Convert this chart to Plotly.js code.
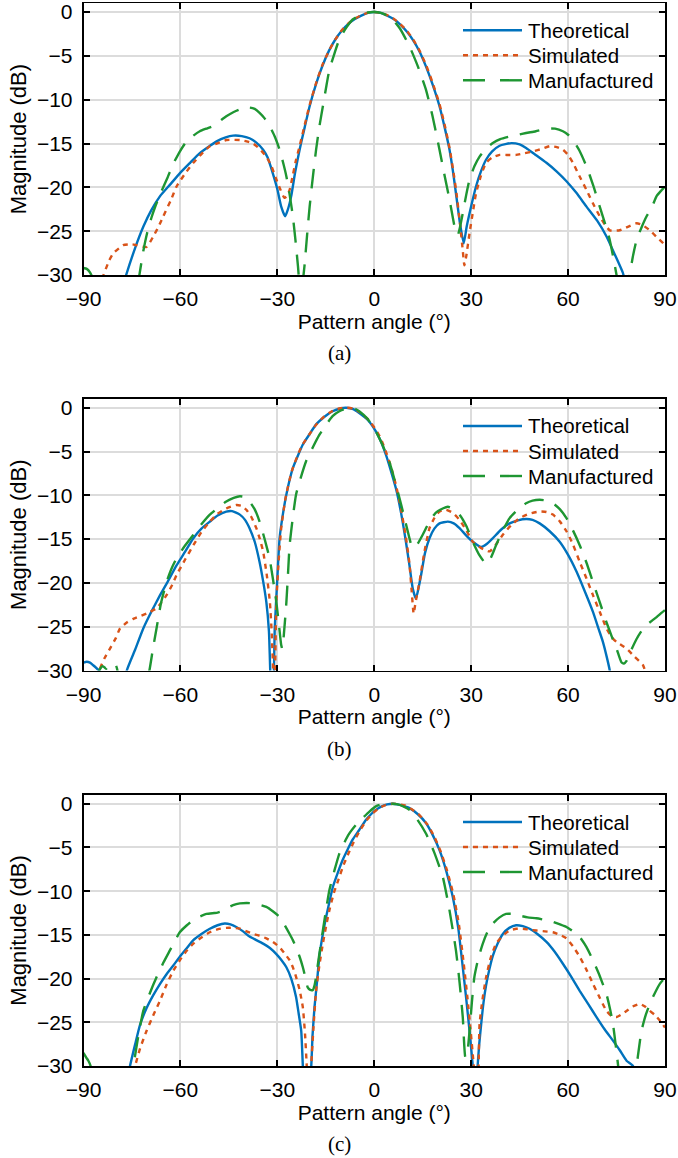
<!DOCTYPE html>
<html>
<head>
<meta charset="utf-8">
<script src="https://cdn.plot.ly/plotly-3.0.1.min.js"></script>
<style>html,body{margin:0;padding:0;background:#fff;}#chart{width:678px;height:1158px;}</style>
</head>
<body>
<div id="chart"></div>
<script>
// ---------- tick labels / names ----------
const xTicks = [-90, -60, -30, 0, 30, 60, 90];
const yTicks = [0, -5, -10, -15, -20, -25, -30];
const seriesNames = ['Theoretical', 'Simulated', 'Manufactured'];
const panelLabels = ['(a)', '(b)', '(c)'];
const xTitle = 'Pattern angle (°)';
const yTitle = 'Magnitude (dB)';

// ---------- panel (a) : [angle (deg), magnitude (dB)] ----------
const aTheoretical = [[-78,-31.5],[-76.8,-30],[-74,-26.9],[-71.5,-24.5],[-69,-22.6],[-66.3,-21.0],[-63,-19.6],[-60.2,-18.4],[-57,-17.2],[-54,-16.1],[-51,-15.3],[-48.8,-14.75],[-46,-14.3],[-43.7,-14.1],[-41,-14.15],[-38.6,-14.4],[-36.5,-14.9],[-34.4,-15.7],[-33,-16.6],[-31.4,-18.4],[-30,-20.2],[-28.8,-22.2],[-27.6,-23.3],[-26.8,-22.6],[-25.7,-21.0],[-24.5,-18.3],[-23.1,-15.7],[-21.5,-13.1],[-20,-10.75],[-18,-8.2],[-16,-6.1],[-14,-4.4],[-12,-3.1],[-10,-2.1],[-8,-1.35],[-6,-0.8],[-4,-0.4],[-2,-0.1],[0,0],[2,-0.1],[4,-0.4],[6,-0.8],[8,-1.4],[10,-2.2],[12,-3.2],[14,-4.5],[16,-6.2],[18,-8.2],[20.2,-10.75],[22,-13.5],[23.3,-15.7],[24.3,-18.0],[25.3,-20.7],[26.5,-24.0],[27.7,-26.4],[28.6,-24.5],[29.5,-22.95],[31.5,-19.9],[33,-18.2],[34.6,-16.85],[36.5,-15.9],[38.8,-15.25],[42.4,-14.95],[45,-15.1],[47,-15.5],[50,-16.3],[53.3,-17.2],[56.5,-18.2],[59.5,-19.3],[62.5,-20.6],[65.7,-22.2],[69,-23.8],[71.9,-25.6],[74.5,-27.7],[77,-29.8],[78,-31.5]];
const aSimulated = [[-85,-31.5],[-83.8,-30],[-82,-28.3],[-80.7,-27.5],[-77.7,-26.6],[-75,-26.5],[-73.5,-26.6],[-70.5,-26.8],[-68.4,-25.6],[-66.8,-24.5],[-65.3,-23.3],[-63,-21.5],[-61.2,-19.9],[-58.5,-18.4],[-56,-17.2],[-53.5,-16.2],[-50.9,-15.3],[-48,-14.9],[-45.8,-14.6],[-41.6,-14.6],[-39.5,-14.75],[-37.5,-15.0],[-35.5,-15.6],[-33.4,-16.5],[-31.8,-17.6],[-30.3,-19.1],[-29,-20.3],[-27.8,-21.2],[-27,-21.0],[-26.2,-20.3],[-25.2,-18.6],[-24.2,-16.85],[-23.1,-15.3],[-22,-13.6],[-20,-10.6],[-18,-8.1],[-16,-6.0],[-14,-4.4],[-12,-3.1],[-10,-2.05],[-8,-1.3],[-6,-0.75],[-4,-0.35],[-2,-0.1],[0,0],[2,-0.08],[4,-0.35],[6,-0.75],[8,-1.35],[10,-2.1],[12,-3.1],[14,-4.4],[16,-6.0],[18,-8.0],[20.2,-10.5],[22,-13.2],[23.3,-15.5],[24.5,-18.2],[25.5,-20.8],[26.5,-24.0],[27.4,-27.2],[27.9,-28.9],[28.5,-27.8],[29.5,-25.2],[30.5,-22.9],[31.5,-20.7],[33,-18.7],[34.6,-17.2],[36.5,-16.6],[38.8,-16.3],[41,-16.3],[43.9,-16.3],[46.5,-16.1],[49.1,-15.9],[52,-15.6],[54.3,-15.3],[56.5,-15.4],[58.4,-15.7],[60,-16.3],[61.5,-17.2],[63.5,-18.7],[65.7,-20.3],[67.8,-21.9],[69.8,-23.3],[71.5,-24.3],[72.9,-24.9],[76,-24.9],[78.5,-24.5],[81.2,-24.1],[83,-24.3],[85.3,-24.9],[87.5,-25.7],[89.5,-26.4],[90,-26.7]];
const aManufactured = [[-90,-29.2],[-89,-29.3],[-88,-29.7],[-87,-30.6],[-86,-33],[-74,-33],[-72.7,-30],[-71.5,-27.3],[-70.3,-25.2],[-69,-23.5],[-67.7,-22.1],[-66.3,-20.8],[-64,-18.9],[-62.2,-17.3],[-60,-15.8],[-58.1,-14.75],[-56,-14.1],[-54,-13.6],[-52,-13.3],[-49.9,-13.0],[-48,-12.5],[-45.8,-11.9],[-43.5,-11.4],[-41.6,-11.1],[-38.6,-10.9],[-37,-11.05],[-35.5,-11.5],[-34,-12.1],[-32.4,-13.0],[-30.8,-14.2],[-29.3,-15.7],[-28.2,-17.2],[-27.2,-18.75],[-26.2,-20.8],[-25.2,-23.3],[-24.4,-26],[-23.6,-29.05],[-23.2,-31],[-22.8,-33],[-22.2,-31],[-21.6,-29],[-20.8,-25.5],[-20,-22.2],[-19,-18.8],[-18,-15.7],[-17,-13.1],[-15.9,-10.75],[-14.9,-8.6],[-13.9,-6.6],[-12.3,-4.7],[-10.8,-3.1],[-8.7,-1.8],[-6.7,-0.85],[-4,-0.3],[-2,-0.05],[0,0],[2,-0.1],[4,-0.4],[5.7,-0.85],[8,-1.9],[10.9,-3.9],[13.5,-6.2],[16,-8.85],[18,-11.8],[20.2,-15.7],[21.8,-18.7],[23.3,-21.4],[24.5,-23.8],[25.3,-25.2],[25.9,-25.4],[26.5,-24.6],[27.4,-22.95],[28.5,-20.8],[29.5,-19.1],[31,-17.6],[32.6,-16.5],[34.6,-15.6],[36.7,-14.95],[39,-14.5],[41.9,-14.2],[44.5,-14.0],[47,-13.8],[50,-13.6],[53.3,-13.3],[56,-13.3],[58.4,-13.6],[60,-14.0],[61.5,-14.6],[63.5,-15.8],[65.7,-17.6],[67.8,-19.8],[69.8,-22.2],[71.5,-24.2],[72.9,-26.0],[74,-28],[75,-30],[75.8,-32],[78.3,-32],[79.1,-30],[80,-28],[81.2,-26.0],[82.7,-24.6],[84.3,-23.3],[86,-22.2],[87.4,-21.0],[89,-20.3],[90,-19.9]];

// ---------- panel (b) ----------
const bTheoretical = [[-90,-29.1],[-89,-29.0],[-88,-29.1],[-87,-29.4],[-85.5,-29.9],[-84.3,-30.5],[-83,-33],[-78,-33],[-76.6,-30],[-74,-27.6],[-71.5,-25.2],[-69,-23.3],[-66.3,-21.4],[-64,-19.9],[-61.2,-18.0],[-58.5,-16.4],[-56,-14.9],[-53.5,-13.8],[-50.9,-13.0],[-48.5,-12.3],[-45.8,-11.85],[-44,-11.8],[-41.6,-12.2],[-40,-12.8],[-38.6,-13.75],[-37,-15.3],[-35.5,-17.6],[-34.4,-19.8],[-33.4,-22.2],[-32.6,-25.5],[-32.2,-30],[-31.8,-34],[-31.2,-32],[-30.8,-25.2],[-30,-19.5],[-29.3,-14.9],[-28.3,-12.2],[-27.2,-9.9],[-25.2,-6.9],[-22.1,-4.2],[-20,-3.0],[-18,-1.9],[-15.5,-1.05],[-12.9,-0.4],[-10.5,-0.08],[-8.7,0],[-6.5,-0.15],[-4.65,-0.6],[-2,-1.4],[0.5,-2.7],[2,-3.8],[3.6,-5.35],[5,-7.0],[6.7,-9.2],[8.3,-12.0],[9.8,-15.3],[10.9,-18.0],[11.9,-20.6],[12.9,-21.8],[13.7,-20.6],[14.5,-19.1],[15.7,-16.6],[17.1,-14.9],[18.6,-13.8],[20.2,-13.2],[22.8,-13.0],[24.6,-13.2],[26.4,-13.75],[28.5,-14.6],[30.5,-15.3],[33.1,-15.9],[35,-15.5],[36.7,-14.9],[39.3,-13.9],[41.9,-13.2],[44.5,-12.85],[47,-12.7],[49,-12.8],[51.2,-13.2],[54.3,-14.1],[57.4,-15.3],[60,-16.8],[62.6,-18.7],[65,-20.8],[67.7,-23.3],[69.5,-25.3],[70.8,-26.75],[72,-28.5],[72.9,-30],[73.5,-32]];
const bSimulated = [[-86,-32],[-84.9,-29.8],[-83.5,-28.6],[-81.8,-27.5],[-80,-26.3],[-78.7,-25.2],[-76.5,-24.5],[-74.6,-24.1],[-72.5,-23.8],[-70.5,-23.5],[-67.4,-22.9],[-66,-22.3],[-64.3,-21.4],[-62.5,-20.2],[-61.2,-19.1],[-58.5,-17.3],[-56,-15.7],[-53.5,-14.2],[-50.9,-13.0],[-48.5,-12.1],[-45.8,-11.5],[-42.7,-11.1],[-41,-11.2],[-39.6,-11.65],[-38,-12.5],[-36.5,-13.75],[-35.4,-15],[-34.4,-16.4],[-33.3,-19],[-32.3,-22.2],[-31.7,-26],[-31.3,-30],[-31,-33],[-30.7,-30],[-30.3,-22.2],[-29.5,-17.0],[-28.8,-13.75],[-27.5,-10.4],[-25.5,-7.2],[-22.5,-4.4],[-20,-3.0],[-18,-1.95],[-15.5,-1.0],[-12.9,-0.35],[-10.5,-0.05],[-8.5,0],[-6.5,-0.1],[-4.5,-0.5],[-2,-1.3],[0.5,-2.5],[2,-3.5],[3.6,-5.0],[5,-6.5],[6.7,-8.8],[8.3,-11.6],[9.8,-14.8],[10.9,-17.8],[11.6,-21],[12.2,-23.5],[12.8,-22.2],[14,-19.9],[15.5,-16.5],[17.1,-13.75],[18.6,-12.6],[20.2,-11.85],[22.2,-11.65],[24.3,-12.0],[26.4,-12.8],[28.5,-14.0],[30.5,-15.3],[33,-16.0],[35.7,-16.4],[37.7,-15.6],[39.8,-14.5],[42.4,-13.4],[45,-12.6],[48,-12.1],[51.2,-11.85],[53.3,-11.9],[55.3,-12.2],[57.5,-13.0],[59.5,-14.1],[61.5,-15.6],[63.6,-17.6],[65.7,-19.5],[67.7,-21.4],[69.8,-23.3],[71.9,-25.2],[73.5,-26.2],[75,-26.75],[78.1,-27.5],[80.5,-28.4],[83.2,-29.4],[84,-30.2],[84.5,-31]];
const bManufactured = [[-86,-31],[-85,-29.9],[-84,-29.5],[-83,-29.8],[-82,-29.4],[-81,-29.6],[-80,-29.4],[-79.5,-30],[-79,-32],[-71,-32],[-69.6,-30],[-68.5,-27.5],[-67.4,-25.2],[-66,-22.3],[-64.3,-19.9],[-62.8,-18.4],[-61.2,-17.2],[-58.5,-15.7],[-56,-14.5],[-53.5,-13.3],[-50.9,-12.2],[-48.3,-11.4],[-45.8,-10.7],[-43.5,-10.3],[-41.6,-10.1],[-40,-10.2],[-38.6,-10.7],[-37,-11.6],[-35.5,-13.0],[-34,-14.9],[-32.4,-17.2],[-31.3,-19.7],[-30.3,-22.2],[-29.5,-24.8],[-28.8,-27.1],[-28.5,-27.5],[-28,-26.0],[-27.2,-22.2],[-26.7,-19],[-26.2,-15.7],[-25.2,-12.5],[-24.2,-9.9],[-22.6,-7.8],[-21.1,-6.1],[-19,-4.5],[-17,-3.1],[-15,-2.0],[-12.9,-0.95],[-10.8,-0.4],[-8.7,-0.1],[-7.5,0],[-6,-0.1],[-4.65,-0.4],[-2,-1.3],[0.5,-2.7],[2.5,-4.2],[4.6,-6.1],[6.2,-8.1],[7.8,-10.3],[9.3,-12.5],[10.9,-14.9],[11.6,-15.8],[12.4,-16.0],[13.5,-15.5],[15,-14.5],[17.1,-13.0],[19,-12.0],[21.2,-11.5],[22.8,-11.3],[24.6,-11.6],[26.4,-12.2],[28.5,-13.5],[30.5,-15.3],[32.5,-16.8],[34.6,-17.8],[36,-17.2],[37.7,-15.7],[39.8,-14.0],[41.9,-12.6],[44.5,-11.6],[47,-10.9],[49,-10.6],[51.2,-10.5],[53.3,-10.6],[55.3,-10.9],[57.5,-11.6],[59.5,-12.6],[61.5,-14.0],[63.6,-15.7],[65.7,-17.7],[67.7,-19.9],[69.8,-22.2],[71.9,-24.5],[73.5,-26.1],[75,-27.5],[76.5,-29.05],[77.3,-29.2],[78.1,-28.9],[79.5,-27.7],[81.2,-26.4],[82.7,-25.5],[84.3,-24.8],[86,-24.3],[87.4,-23.9],[89,-23.4],[90,-23.1]];

// ---------- panel (c) ----------
const cTheoretical = [[-77,-33],[-75.6,-30],[-74,-27.5],[-72.5,-25.3],[-70.5,-23.4],[-68.4,-21.9],[-66.3,-20.6],[-64.3,-19.5],[-62.2,-18.5],[-60.2,-17.5],[-58,-16.5],[-56,-15.6],[-53.5,-14.9],[-50.9,-14.3],[-48.5,-13.9],[-46.3,-13.7],[-44.5,-13.8],[-42.7,-14.1],[-40.6,-14.6],[-38.6,-15.2],[-36.5,-15.6],[-34.4,-16.0],[-32.3,-16.5],[-30.3,-17.2],[-28.7,-17.9],[-27.2,-18.7],[-25.7,-20.0],[-24.2,-22.1],[-23.4,-24],[-22.6,-26],[-22.1,-30],[-21.5,-34],[-20.5,-34],[-19.5,-30],[-19.1,-26.5],[-18.5,-23.3],[-17.7,-20.3],[-17,-17.5],[-16,-15.1],[-14.9,-12.95],[-13.8,-11.1],[-12.8,-9.5],[-11.3,-7.9],[-9.75,-6.4],[-8.2,-5.2],[-6.7,-4.1],[-4.65,-3.0],[-2.6,-1.85],[-1,-1.2],[0.5,-0.7],[2,-0.35],[4,-0.08],[5.7,0],[7.5,-0.1],[9,-0.25],[10.9,-0.5],[13.5,-1.2],[16,-2.2],[18,-3.5],[20.2,-5.3],[22.3,-7.7],[24.3,-10.65],[26,-14.2],[27.4,-18.7],[28.5,-22.4],[29.5,-26],[30.5,-30],[31.2,-34],[31.5,-34],[32,-30],[32.5,-27.5],[33.1,-25.2],[33.8,-22.8],[34.6,-20.8],[35.6,-19.0],[36.7,-17.4],[38.2,-16.0],[39.8,-14.9],[41.8,-14.2],[43.9,-13.9],[46,-14.0],[48.1,-14.3],[50.5,-14.9],[53.3,-15.8],[55.8,-16.9],[58.4,-18.3],[61,-19.8],[63.6,-21.4],[66.2,-22.9],[68.8,-24.4],[71.3,-25.8],[73.9,-27.1],[76,-28.2],[78.1,-29.4],[80.1,-30],[81,-32]];
const cSimulated = [[-75.5,-33],[-74,-30],[-72.5,-28],[-70.5,-26],[-68.4,-24.2],[-66.3,-22.5],[-64.3,-20.7],[-62.2,-19.1],[-60,-17.8],[-58,-16.8],[-56,-16.0],[-53.5,-15.3],[-50.9,-14.7],[-48.3,-14.35],[-45.8,-14.2],[-43.7,-14.2],[-41.6,-14.3],[-39.5,-14.6],[-37.5,-14.9],[-35.5,-15.1],[-33.4,-15.4],[-31.4,-15.8],[-29.3,-16.4],[-27.8,-17.1],[-26.2,-17.9],[-25.2,-18.7],[-24.2,-19.8],[-23.1,-21.3],[-22.1,-23.3],[-21.4,-26.5],[-20.9,-30],[-20.5,-34],[-19.8,-34],[-19.5,-30],[-18.8,-25.5],[-18,-21.4],[-17,-18.5],[-15.9,-16.0],[-14.9,-14.0],[-13.9,-12.2],[-12.5,-10.2],[-11,-8.6],[-9.5,-7.0],[-8,-5.7],[-6.5,-4.5],[-4.65,-3.2],[-2.6,-2.0],[-0.5,-1.1],[1.5,-0.5],[3.5,-0.15],[5.7,0],[7.5,-0.05],[9.5,-0.2],[11.5,-0.6],[14,-1.3],[16.5,-2.4],[18.5,-3.7],[20.5,-5.4],[22.5,-7.6],[24.5,-10.4],[26.2,-13.8],[27.7,-18.3],[28.9,-22.4],[29.9,-26.2],[30.8,-30],[31.5,-34],[31.9,-34],[32.3,-30],[32.6,-25.2],[33.5,-22.4],[34.6,-19.9],[36,-17.7],[37.7,-16.0],[39.8,-15.1],[41.9,-14.5],[44,-14.3],[46,-14.3],[48,-14.4],[50.2,-14.5],[52.8,-14.6],[55.3,-14.7],[57.5,-15.0],[59.5,-15.4],[61.5,-16.3],[63.6,-17.5],[65.7,-19.0],[67.7,-20.6],[69.8,-22.2],[71.9,-23.7],[73.5,-24.3],[75,-24.4],[76.5,-24.1],[78.1,-23.7],[80,-23.2],[82.2,-22.9],[83.8,-23.2],[85.3,-23.7],[87,-24.2],[88.4,-24.8],[90,-25.6]];
const cManufactured = [[-90,-28.5],[-89.2,-29.0],[-88.5,-29.4],[-87.8,-30],[-87,-32],[-76,-32],[-74.6,-30],[-73,-26.5],[-71.5,-23.7],[-69.5,-21.7],[-67.4,-19.85],[-65.3,-18.2],[-63.3,-16.8],[-61.7,-15.7],[-60.2,-14.7],[-58,-13.9],[-56,-13.3],[-53.9,-12.9],[-51.9,-12.6],[-49.5,-12.5],[-48.5,-12.45],[-46.5,-12.2],[-45.8,-12.0],[-43.7,-11.6],[-41.6,-11.4],[-39.5,-11.35],[-37.5,-11.4],[-35.5,-11.55],[-33.4,-11.8],[-31.4,-12.3],[-29.3,-12.95],[-27.7,-13.9],[-26.2,-14.9],[-25.2,-15.6],[-24.2,-16.4],[-23.1,-17.5],[-22.1,-18.7],[-21.3,-19.9],[-20.6,-21.0],[-19.8,-21.3],[-19,-21.3],[-18.5,-20.8],[-18,-19.8],[-17,-17.2],[-15.9,-14.5],[-14.9,-12.1],[-13.9,-9.9],[-12.3,-7.6],[-10.8,-5.7],[-9.2,-4.4],[-7.7,-3.4],[-5.6,-2.4],[-3.6,-1.65],[-1.5,-0.9],[0.5,-0.3],[2.5,-0.05],[5.2,0],[7,-0.05],[9,-0.3],[10.9,-0.7],[13.5,-1.9],[16,-3.4],[18.5,-5.5],[21.2,-8.35],[23.3,-12.2],[25.3,-16.8],[26.4,-20.4],[27.4,-24.4],[28.2,-29.0],[28.8,-28.5],[29.5,-26],[30.2,-22.8],[31,-19.8],[32.2,-17.7],[33.6,-16.0],[35,-14.7],[36.7,-13.7],[38.8,-13.0],[40.8,-12.6],[43,-12.6],[45,-12.8],[47.5,-13.0],[50.2,-13.1],[53,-13.3],[55.3,-13.5],[57.5,-13.8],[59.5,-14.1],[61.5,-14.6],[63.6,-15.25],[65.7,-16.4],[67.7,-17.9],[69.8,-19.7],[71.9,-21.8],[73,-23.5],[73.9,-25.2],[74.7,-27.5],[75.5,-30],[76,-32],[80.5,-32],[81.2,-30],[82,-27.8],[82.7,-26],[84,-24.2],[85.3,-22.9],[86.8,-21.7],[88.4,-20.6],[90,-19.9]];

const panels = [
  [aTheoretical, aSimulated, aManufactured],
  [bTheoretical, bSimulated, bManufactured],
  [cTheoretical, cSimulated, cManufactured]
];

// ---------- styling ----------
const W = 678, H = 1158;
const FONT = 'Liberation Sans, Arial, Helvetica, sans-serif';
const SERIF = 'Liberation Serif, Times New Roman, serif';
const colors = ['#0072BD', '#D95319', '#1E9632'];
const curveDash = ['solid', '5px,5px', '20px,12px'];
const legendDash = ['solid', '5px,5px', '22px,15px'];
const LW = 2.4;
const xDomainPx = [83.5, 665];
const panelTopPx = [3.3, 399, 795];
const panelBottomPx = [275, 670.5, 1066];
const labelYpx = [353, 748.5, 1144];
const px = v => v / W;
const py = v => 1 - v / H;

const traces = [];
const layout = {
  width: W, height: H,
  margin: {l: 0, r: 0, t: 0, b: 0},
  paper_bgcolor: '#fff', plot_bgcolor: '#fff',
  showlegend: false,
  annotations: [], shapes: []
};

panels.forEach((series, p) => {
  const sfx = p === 0 ? '' : String(p + 1);
  series.forEach((pts, s) => {
    traces.push({
      type: 'scatter', mode: 'lines',
      x: pts.map(d => d[0]), y: pts.map(d => d[1]),
      name: seriesNames[s],
      xaxis: 'x' + sfx, yaxis: 'y' + sfx,
      line: {color: colors[s], width: LW, dash: curveDash[s], shape: 'spline', smoothing: 0.5},
      hoverinfo: 'skip'
    });
  });
  const common = {
    showline: true, linecolor: '#000', linewidth: 1.8, mirror: 'ticks',
    ticks: 'inside', ticklen: 6, tickwidth: 2, tickcolor: '#000',
    showgrid: true, gridcolor: '#dcdcdc', gridwidth: 2,
    zeroline: false, fixedrange: true,
    tickfont: {family: FONT, size: 21, color: '#000'}
  };
  layout['xaxis' + sfx] = Object.assign({}, common, {
    domain: [px(xDomainPx[0]), px(xDomainPx[1])],
    range: [-90, 90], tickvals: xTicks, anchor: 'y' + sfx,
    ticklabelstandoff: 4,
    title: {text: xTitle, font: {family: FONT, size: 21, color: '#000'}, standoff: 3}
  });
  layout['yaxis' + sfx] = Object.assign({}, common, {
    domain: [py(panelBottomPx[p]), py(panelTopPx[p])],
    range: [-30, 1], tickvals: yTicks, anchor: 'x' + sfx,
    ticklabelstandoff: 5,
    title: {text: yTitle, font: {family: FONT, size: 22, color: '#000'}, standoff: 4}
  });

  // legend box (white background, no border) with line samples and labels
  const top = panelTopPx[p];
  layout.shapes.push({
    type: 'rect', xref: 'paper', yref: 'paper', layer: 'between',
    x0: px(452), x1: px(657), y0: py(top + 12), y1: py(top + 92),
    fillcolor: '#fff', line: {width: 0}
  });
  seriesNames.forEach((name, s) => {
    const ry = top + 27 + 25 * s;
    layout.shapes.push({
      type: 'line', xref: 'paper', yref: 'paper', layer: 'above',
      x0: px(463), x1: px(522), y0: py(ry), y1: py(ry),
      line: {color: colors[s], width: LW, dash: legendDash[s]}
    });
    layout.annotations.push({
      text: name, xref: 'paper', yref: 'paper',
      x: px(526), y: py(ry), xanchor: 'left', yanchor: 'middle',
      showarrow: false, font: {family: FONT, size: 20.5, color: '#000'}
    });
  });

  layout.annotations.push({
    text: panelLabels[p], xref: 'paper', yref: 'paper',
    x: 0.5, y: py(labelYpx[p]), xanchor: 'center', yanchor: 'middle',
    showarrow: false, font: {family: SERIF, size: 21, color: '#000'}
  });
});

Plotly.newPlot('chart', traces, layout, {staticPlot: true, displayModeBar: false});
</script>
</body>
</html>
